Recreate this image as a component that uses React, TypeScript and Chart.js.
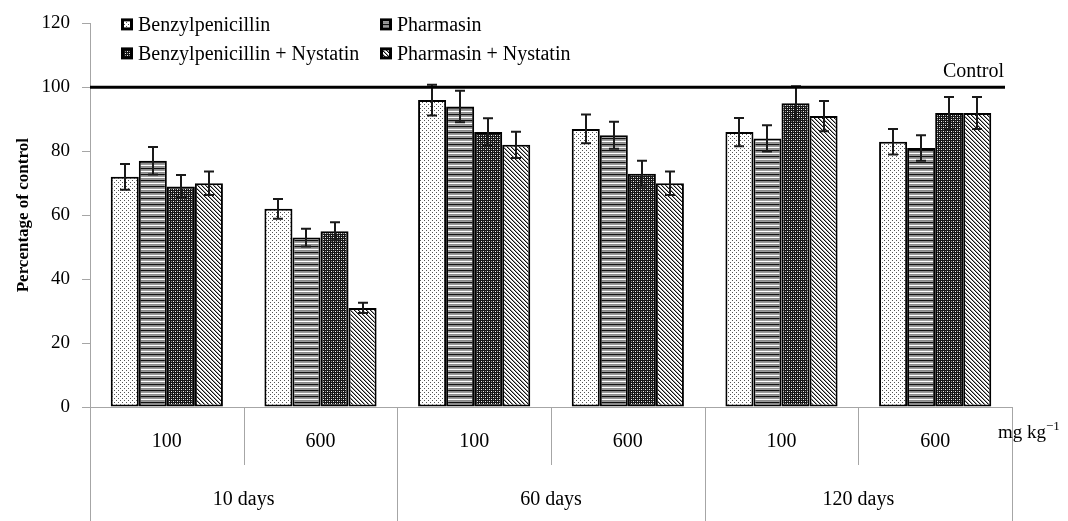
import React, { useEffect, useRef } from "react";
import { Chart, registerables } from "chart.js";

Chart.register(...registerables);

const doseLabels = ["100", "600", "100", "600", "100", "600"];
const dayLabels = ["10 days", "60 days", "120 days"];
const seriesNames = [
  "Benzylpenicillin",
  "Pharmasin",
  "Benzylpenicillin + Nystatin",
  "Pharmasin + Nystatin",
];
const benzyl = [72, 62, 96, 87, 86, 83];
const pharmasin = [77, 53, 94, 85, 84, 81];
const benzylNys = [69, 55, 86, 73, 95, 92];
const pharmasinNys = [70, 31, 82, 70, 91, 92];
const benzylErr = [4, 3.1, 4.8, 4.5, 4.4, 4];
const pharmasinErr = [4.3, 2.8, 4.9, 4.2, 4.1, 4];
const benzylNysErr = [3.6, 2.8, 4.3, 4, 5.3, 5];
const pharmasinNysErr = [3.7, 1.6, 4.1, 3.7, 4.7, 5];
const yTicks = { min: 0, max: 120, step: 20 };
const controlValue = 100;

const FONT = "'Liberation Serif', 'Times New Roman', serif";

function makePattern(
  w: number,
  h: number,
  draw: (c: CanvasRenderingContext2D) => void
): CanvasPattern | string {
  const cv = document.createElement("canvas");
  cv.width = w;
  cv.height = h;
  const c = cv.getContext("2d");
  if (!c) return "#888";
  draw(c);
  const p = c.createPattern(cv, "repeat");
  return p || "#888";
}

function buildPatterns() {
  const dots = makePattern(4, 4, (c) => {
    c.fillStyle = "#fff";
    c.fillRect(0, 0, 4, 4);
    c.fillStyle = "#555";
    c.fillRect(0, 0, 1, 1);
    c.fillRect(2, 2, 1, 1);
  });
  const hstripes = makePattern(1, 6, (c) => {
    const rows = ["#111", "#8a8a8a", "#9a9a9a", "#fff", "#8a8a8a", "#9a9a9a"];
    rows.forEach((col, i) => {
      c.fillStyle = col;
      c.fillRect(0, i, 1, 1);
    });
  });
  const plaid = makePattern(4, 4, (c) => {
    c.fillStyle = "#151515";
    c.fillRect(0, 0, 4, 4);
    c.fillStyle = "#f0f0f0";
    c.fillRect(1, 1, 1, 1);
    c.fillRect(3, 3, 1, 1);
    c.fillStyle = "#8a8a8a";
    c.fillRect(1, 3, 1, 1);
    c.fillRect(3, 1, 1, 1);
  });
  const diag = makePattern(4, 4, (c) => {
    c.fillStyle = "#fff";
    c.fillRect(0, 0, 4, 4);
    for (let i = 0; i < 4; i++) {
      c.fillStyle = "#111";
      c.fillRect(i, i, 1, 1);
      c.fillStyle = "#999";
      c.fillRect((i + 1) % 4, i, 1, 1);
    }
  });
  return [dots, hstripes, plaid, diag];
}

export default function App() {
  const canvasRef = useRef<HTMLCanvasElement | null>(null);

  useEffect(() => {
    const canvas = canvasRef.current;
    if (!canvas) return;
    const patterns = buildPatterns();
    const values = [benzyl, pharmasin, benzylNys, pharmasinNys];
    const errors = [benzylErr, pharmasinErr, benzylNysErr, pharmasinNysErr];

    const overlay = {
      id: "overlay",
      afterDatasetsDraw(chart: any) {
        const ctx = chart.ctx as CanvasRenderingContext2D;
        const ys = chart.scales.y;
        const xs = chart.scales.x;
        const area = chart.chartArea;
        ctx.save();
        // error bars
        ctx.strokeStyle = "#1a1a1a";
        ctx.lineWidth = 2;
        values.forEach((vals, di) => {
          const meta = chart.getDatasetMeta(di);
          meta.data.forEach((el: any, i: number) => {
            const v = vals[i];
            const e = errors[di][i];
            const yt = ys.getPixelForValue(v + e);
            const yb = ys.getPixelForValue(v - e);
            const x = Math.round(el.x);
            ctx.beginPath();
            ctx.moveTo(x, yt);
            ctx.lineTo(x, yb);
            ctx.moveTo(x - 5, yt);
            ctx.lineTo(x + 5, yt);
            ctx.moveTo(x - 5, yb);
            ctx.lineTo(x + 5, yb);
            ctx.stroke();
          });
        });
        // control line
        const yc = ys.getPixelForValue(controlValue);
        ctx.strokeStyle = "#000";
        ctx.lineWidth = 3;
        ctx.beginPath();
        ctx.moveTo(area.left, yc);
        ctx.lineTo(area.right - 7, yc);
        ctx.stroke();
        ctx.fillStyle = "#000";
        ctx.font = `20px ${FONT}`;
        ctx.textAlign = "right";
        ctx.textBaseline = "alphabetic";
        ctx.fillText("Control", area.right - 8, yc - 10);

        // category dividers below axis
        ctx.strokeStyle = "#a6a6a6";
        ctx.lineWidth = 1;
        const n = doseLabels.length;
        const w = (xs.right - xs.left) / n;
        for (let i = 0; i <= n; i++) {
          const x = Math.round(xs.left + i * w) + 0.5;
          const yEnd = i % 2 === 0 ? chart.height : area.bottom + 58;
          ctx.beginPath();
          ctx.moveTo(x, area.bottom);
          ctx.lineTo(x, yEnd);
          ctx.stroke();
        }

        // unit label
        ctx.fillStyle = "#000";
        ctx.textAlign = "left";
        ctx.font = `19px ${FONT}`;
        const ux = area.right - 14;
        const uy = area.bottom + 31;
        ctx.fillText("mg kg", ux, uy);
        const uw = ctx.measureText("mg kg").width;
        ctx.font = `13px ${FONT}`;
        ctx.fillText("\u22121", ux + uw, uy - 8);

        // legend
        ctx.font = `20px ${FONT}`;
        ctx.textBaseline = "middle";
        const cols = [area.left + 32, area.left + 291];
        const rows = [area.top + 1, area.top + 30];
        seriesNames.forEach((name, i) => {
          const bx = cols[i % 2];
          const by = rows[Math.floor(i / 2)];
          ctx.fillStyle = "#000";
          ctx.fillRect(bx - 1, by - 6, 12, 12);
          ctx.fillStyle = patterns[i] as any;
          ctx.fillRect(bx + 2, by - 3, 6, 6);
          ctx.fillStyle = "#000";
          ctx.fillText(name, bx + 16, by + 1);
        });
        ctx.restore();
      },
    };

    const chart = new Chart(canvas, {
      type: "bar",
      data: {
        labels: doseLabels,
        datasets: seriesNames.map((name, i) => ({
          label: name,
          data: values[i],
          backgroundColor: patterns[i] as any,
          borderColor: "#000",
          borderWidth: 2,
          borderSkipped: false,
          categoryPercentage: 0.73,
          barPercentage: 1.0,
        })),
      },
      options: {
        responsive: false,
        animation: false,
        layout: { padding: { top: 22, right: 56, bottom: 0, left: 0 } },
        plugins: {
          legend: { display: false },
          tooltip: { enabled: false },
        },
        scales: {
          x: {
            weight: 0,
            afterFit: (scale: any) => {
              scale.height = 58;
            },
            grid: { display: false, drawTicks: false },
            border: { display: true, color: "#a6a6a6", width: 1 },
            ticks: {
              color: "#000",
              font: { family: FONT, size: 20 },
              padding: 23,
              maxRotation: 0,
              autoSkip: false,
            },
          },
          x2: {
            type: "category",
            position: "bottom",
            weight: 1,
            labels: dayLabels,
            offset: true,
            afterFit: (scale: any) => {
              scale.height = 56;
            },
            grid: { display: false, drawTicks: false },
            border: { display: false },
            ticks: {
              color: "#000",
              font: { family: FONT, size: 20 },
              padding: 23,
              maxRotation: 0,
              autoSkip: false,
            },
          },
          y: {
            min: yTicks.min,
            max: yTicks.max,
            afterFit: (scale: any) => {
              scale.width = 90;
            },
            grid: {
              display: true,
              drawOnChartArea: false,
              drawTicks: true,
              tickLength: 8,
              color: "#a6a6a6",
            },
            border: { display: true, color: "#a6a6a6", width: 1 },
            ticks: {
              stepSize: yTicks.step,
              color: "#000",
              font: { family: FONT, size: 19 },
              padding: 12,
            },
            title: {
              display: true,
              text: "Percentage of control",
              color: "#000",
              font: { family: FONT, size: 17, weight: "bold" },
              padding: { top: 13, bottom: 0 },
            },
          },
        },
      },
      plugins: [overlay],
    });

    return () => chart.destroy();
  }, []);

  return (
    <div style={{ position: "absolute", left: 0, top: 0, width: 1068, height: 521 }}>
      <canvas ref={canvasRef} width={1068} height={521} style={{ display: "block" }} />
    </div>
  );
}
